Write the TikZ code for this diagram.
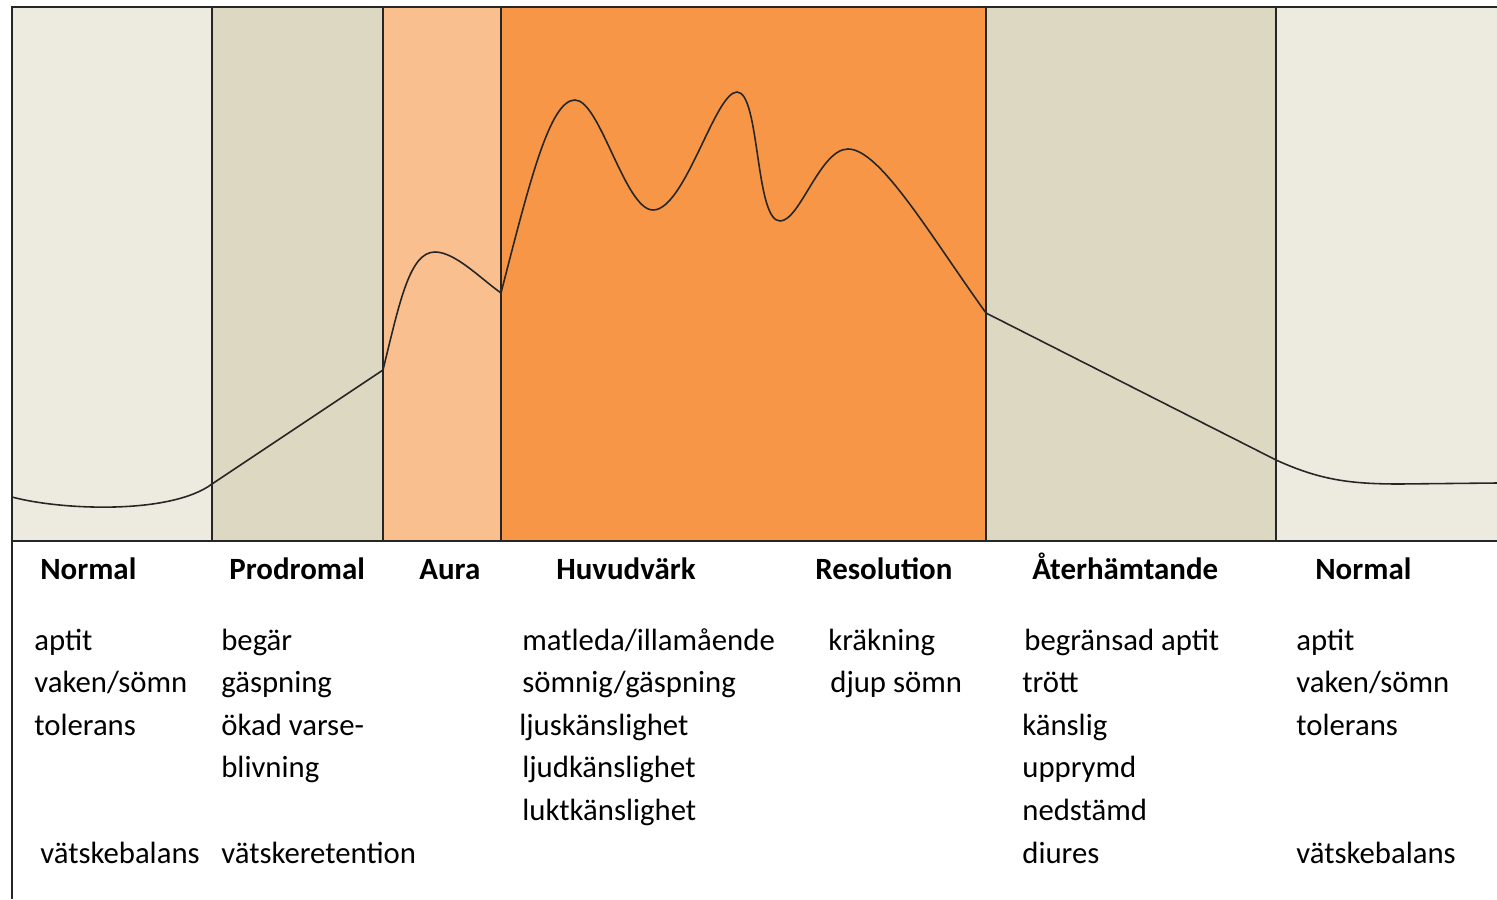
\documentclass[tikz,border=0pt]{standalone}
\usepackage{fontspec}
\setmainfont{Carlito}
\usetikzlibrary{calc}

\definecolor{normalfill}{RGB}{237,235,224}
\definecolor{prodfill}{RGB}{221,216,194}
\definecolor{aurafill}{RGB}{249,191,143}
\definecolor{headfill}{RGB}{247,150,70}
\definecolor{edgegray}{RGB}{38,38,38}

\begin{document}
\begin{tikzpicture}[x=0.02cm, y=-0.02cm,
    phase/.style={anchor=base west, inner sep=0pt, font=\fontsize{17.6}{17.6}\selectfont\bfseries},
    item/.style={anchor=base west, inner sep=0pt, font=\fontsize{17.5}{17.5}\selectfont}]
    \useasboundingbox (0, 0) rectangle (1497, 899);

    % phase bands
    \fill [normalfill] (12, 7) rectangle (212, 541);
    \fill [prodfill] (212, 7) rectangle (383, 541);
    \fill [aurafill] (383, 7) rectangle (501, 541);
    \fill [headfill] (501, 7) rectangle (986, 541);
    \fill [prodfill] (986, 7) rectangle (1276, 541);
    \fill [normalfill] (1276, 7) rectangle (1497, 541);

    % curve
    \draw[black!85, line width=0.9pt] (12, 497) .. controls (60, 510) and (170, 515) .. (212, 484)
        -- (383, 370)
        .. controls (400, 300) and (410, 252) .. (435, 252)
        .. controls (455, 252) and (480, 278) .. (501, 293)
        .. controls (530, 180) and (550, 100) .. (575, 100)
        .. controls (600, 100) and (625, 210) .. (653, 210)
        .. controls (685, 210) and (715, 92) .. (737, 92)
        .. controls (760, 92) and (755, 221) .. (780, 221)
        .. controls (800, 221) and (820, 149) .. (848, 149)
        .. controls (880, 149) and (930, 235) .. (986, 313)
        -- (1276, 460)
        .. controls (1320, 480) and (1350, 484) .. (1400, 484) -- (1497, 483);

    % frame and dividers
    \draw[edgegray, line width=1.1pt] (12, 899) -- (12, 7) -- (1497, 7);
    \draw[edgegray, line width=1.1pt] (12, 541) -- (1497, 541);
    \draw[edgegray, line width=1pt] (212, 7) -- (212, 541);
    \draw[edgegray, line width=1pt] (383, 7) -- (383, 541);
    \draw[edgegray, line width=1pt] (501, 7) -- (501, 541);
    \draw[edgegray, line width=1pt] (986, 7) -- (986, 541);
    \draw[edgegray, line width=1pt] (1276, 7) -- (1276, 541);

    % phase names
    \node[phase] (normalA) at (40, 579) {Normal};
    \node[phase] (prodromal) at (229, 579) {Prodromal};
    \node[phase] (aura) at (419, 579) {Aura};
    \node[phase] (huvudvark) at (556, 579) {Huvudvärk};
    \node[phase] (resolution) at (815, 579) {Resolution};
    \node[phase] (aterhamt) at (1032, 579) {Återhämtande};
    \node[phase] (normalB) at (1315, 579) {Normal};

    % symptoms
    \node[item] (n1) at (34, 650) {aptit};
    \node[item] (n2) at (34, 692) {vaken/sömn};
    \node[item] (n3) at (34, 735) {tolerans};
    \node[item] (n4) at (40, 863) {vätskebalans};

    \node[item] (p1) at (221, 650) {begär};
    \node[item] (p2) at (221, 692) {gäspning};
    \node[item] (p3) at (221, 735) {ökad varse-};
    \node[item] (p4) at (221, 777) {blivning};
    \node[item] (p5) at (221, 863) {vätskeretention};

    \node[item] (h1) at (522, 650) {matleda/illamående};
    \node[item] (h2) at (522, 692) {sömnig/gäspning};
    \node[item] (h3) at (519, 735) {ljuskänslighet};
    \node[item] (h4) at (522, 777) {ljudkänslighet};
    \node[item] (h5) at (522, 820) {luktkänslighet};

    \node[item] (r1) at (828, 650) {kräkning};
    \node[item] (r2) at (830, 692) {djup sömn};

    \node[item] (a1) at (1024, 650) {begränsad aptit};
    \node[item] (a2) at (1022, 692) {trött};
    \node[item] (a3) at (1022, 735) {känslig};
    \node[item] (a4) at (1022, 777) {upprymd};
    \node[item] (a5) at (1022, 820) {nedstämd};
    \node[item] (a6) at (1022, 863) {diures};

    \node[item] (m1) at (1296, 650) {aptit};
    \node[item] (m2) at (1296, 692) {vaken/sömn};
    \node[item] (m3) at (1296, 735) {tolerans};
    \node[item] (m4) at (1296, 863) {vätskebalans};
\end{tikzpicture}
\end{document}
